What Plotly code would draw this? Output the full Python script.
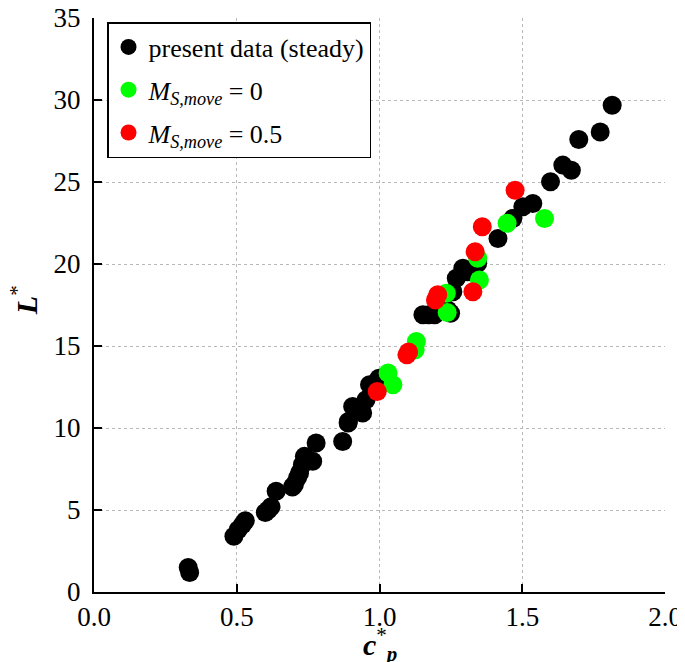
import plotly.graph_objects as go

# present data (steady)
steady_cp = [0.33, 0.335, 0.49, 0.505, 0.52, 0.53, 0.60, 0.61, 0.62, 0.638, 0.695, 0.702,
             0.713, 0.72, 0.73, 0.737, 0.766, 0.778, 0.871, 0.89, 0.891, 0.906, 0.941, 0.953,
             0.965, 0.998, 1.152, 1.172, 1.193, 1.239, 1.249, 1.257, 1.269, 1.292, 1.309,
             1.344, 1.415, 1.467, 1.502, 1.537, 1.599, 1.642, 1.672, 1.698, 1.773, 1.815]
steady_L = [1.5, 1.19, 3.4, 3.8, 4.1, 4.35, 4.85, 5.0, 5.2, 6.14, 6.4, 6.55,
            6.97, 7.26, 7.77, 8.27, 7.97, 9.09, 9.18, 10.3, 10.4, 11.31, 10.91, 11.72,
            12.64, 13.04, 16.9, 16.9, 16.9, 17.2, 17.0, 18.31, 19.13, 19.74, 19.53,
            20.04, 21.56, 22.78, 23.49, 23.69, 25.01, 26.03, 25.72, 27.59, 28.05, 29.68]

# M_S,move = 0
m0_cp = [1.03, 1.047, 1.129, 1.125, 1.237, 1.234, 1.35, 1.344, 1.447, 1.578]
m0_L = [13.35, 12.64, 15.27, 14.77, 17.04, 18.22, 19.02, 20.35, 22.48, 22.78]

# M_S,move = 0.5
m05_cp = [0.992, 1.096, 1.102, 1.196, 1.204, 1.327, 1.335, 1.36, 1.475]
m05_L = [12.23, 14.46, 14.64, 17.81, 18.12, 18.31, 20.75, 22.27, 24.5]

x_ticks = [0.0, 0.5, 1.0, 1.5, 2.0]
x_ticklabels = ["0.0", "0.5", "1.0", "1.5", "2.0"]
y_ticks = [0, 5, 10, 15, 20, 25, 30, 35]

x_title = "<b><i>c</i></b><sup>*</sup><sub><b><i>p</i></b></sub>"
y_title = "<b><i>L</i></b><sup>*</sup>"

serif = "Liberation Serif"
msize = 19

fig = go.Figure()
fig.add_trace(go.Scatter(x=steady_cp, y=steady_L, mode="markers", name="present data (steady)",
                         legendgroup="a",
                         marker=dict(color="black", size=msize, line=dict(width=0))))
fig.add_trace(go.Scatter(x=m0_cp, y=m0_L, mode="markers",
                         name="<i>M</i><sub><i>S,move</i></sub> = 0", legendgroup="b",
                         marker=dict(color="#00ff00", size=msize, line=dict(width=0))))
fig.add_trace(go.Scatter(x=m05_cp, y=m05_L, mode="markers",
                         name="<i>M</i><sub><i>S,move</i></sub> = 0.5", legendgroup="c",
                         marker=dict(color="#ff0000", size=msize, line=dict(width=0))))

axis_common = dict(
    showline=True, linecolor="black", linewidth=2, mirror=False,
    ticks="inside", ticklen=8, tickwidth=1.5, tickcolor="black",
    showgrid=True, gridcolor="#b8b8b8", gridwidth=1, griddash="dot",
    zeroline=False, automargin=False, ticklabeloverflow="allow",
    tickfont=dict(family=serif, size=27, color="black"),
)

fig.update_layout(
    width=685, height=662,
    margin=dict(l=86, r=28, t=10, b=78),
    paper_bgcolor="white", plot_bgcolor="white",
    showlegend=True,
    legend=dict(
        x=0.0228, y=0.993, xanchor="left", yanchor="top",
        bgcolor="white", bordercolor="black", borderwidth=1.5,
        font=dict(family=serif, size=26, color="black"),
        traceorder="grouped", tracegroupgap=6,
        itemsizing="trace",
    ),
    xaxis=dict(range=[0, 2], tickvals=x_ticks, ticktext=x_ticklabels,
               ticklabelstandoff=0, **axis_common),
    yaxis=dict(range=[0, 35], tickvals=y_ticks,
               ticklabelstandoff=6, **axis_common),
    annotations=[
        dict(text=x_title, xref="paper", yref="paper", x=0.5, y=-0.092,
             xanchor="center", yanchor="middle", showarrow=False,
             font=dict(family=serif, size=30, color="black")),
        dict(text=y_title, xref="paper", yref="paper", x=-0.122, y=0.509,
             xanchor="center", yanchor="middle", showarrow=False, textangle=-90,
             font=dict(family=serif, size=30, color="black")),
    ],
)

fig.write_html("out.html")
